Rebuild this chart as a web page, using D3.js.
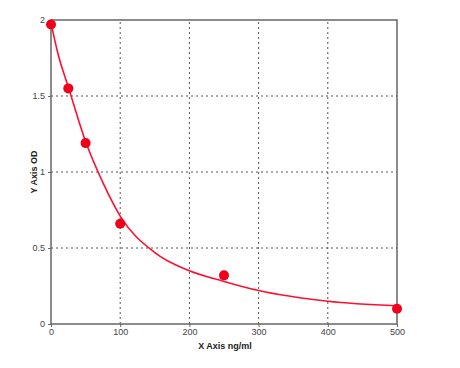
<!DOCTYPE html>
<html>
<head>
<meta charset="utf-8">
<script src="https://cdn.jsdelivr.net/npm/d3@7"></script>
<style>
  body { margin: 0; background: #fff; }
  svg text { font-family: "Liberation Sans", Arial, sans-serif; }
</style>
</head>
<body>
<div id="chart"></div>
<script>
// measured standards
const conc = [0, 25, 50, 100, 250, 500];
const od = [1.97, 1.55, 1.19, 0.66, 0.32, 0.10];
// fitted curve
const fitX = [0, 10, 25, 50, 75, 100, 150, 200, 250, 300, 400, 500];
const fitY = [1.98, 1.78, 1.56, 1.2, 0.93, 0.71, 0.47, 0.35, 0.28, 0.22, 0.15, 0.12];
const xTicks = [0, 100, 200, 300, 400, 500];
const yTicks = [0, 0.5, 1, 1.5, 2];

const width = 460, height = 368;
const margin = { left: 51, top: 20, right: 63, bottom: 44 };

const svg = d3.select('#chart').append('svg')
  .attr('width', width)
  .attr('height', height);

const x = d3.scaleLinear().domain([0, 500]).range([margin.left, width - margin.right]);
const y = d3.scaleLinear().domain([0, 2]).range([height - margin.bottom, margin.top]);

// grid
const grid = svg.append('g');
grid.selectAll('.vg')
  .data(xTicks.slice(1, -1))
  .enter().append('line')
  .attr('x1', d => x(d)).attr('x2', d => x(d))
  .attr('y1', y(0)).attr('y2', y(2))
  .attr('stroke', '#555')
  .attr('stroke-width', 1)
  .attr('stroke-dasharray', '2,3');
grid.selectAll('.hg')
  .data(yTicks.slice(1, -1))
  .enter().append('line')
  .attr('x1', x(0)).attr('x2', x(500))
  .attr('y1', d => y(d)).attr('y2', d => y(d))
  .attr('stroke', '#555')
  .attr('stroke-width', 1)
  .attr('stroke-dasharray', '2,3');

// frame
svg.append('rect')
  .attr('x', x(0)).attr('y', y(2))
  .attr('width', x(500) - x(0))
  .attr('height', y(0) - y(2))
  .attr('fill', 'none')
  .attr('stroke', '#666')
  .attr('stroke-width', 1.5);

// axes
const xAxis = svg.append('g')
  .attr('transform', `translate(0,${y(0)})`)
  .call(d3.axisBottom(x).tickValues(xTicks).tickSize(3).tickFormat(d3.format('d')));
const yAxis = svg.append('g')
  .attr('transform', `translate(${x(0)},0)`)
  .call(d3.axisLeft(y).tickValues(yTicks).tickSize(3).tickFormat(d => String(d)));
[xAxis, yAxis].forEach(a => {
  a.select('.domain').remove();
  a.selectAll('line').attr('stroke', '#666');
  a.selectAll('text').attr('fill', '#444').attr('font-size', 9);
});
xAxis.selectAll('text').attr('dy', '0.5em');

// fitted line
const line = d3.line()
  .x(d => x(d[0]))
  .y(d => y(d[1]))
  .curve(d3.curveMonotoneX);
svg.append('path')
  .datum(fitX.map((v, i) => [v, fitY[i]]))
  .attr('d', line)
  .attr('fill', 'none')
  .attr('stroke', '#ff1030')
  .attr('stroke-width', 1.6);

// points
svg.selectAll('.pt')
  .data(conc.map((v, i) => [v, od[i]]))
  .enter().append('circle')
  .attr('cx', d => x(d[0]))
  .attr('cy', d => y(d[1]))
  .attr('r', 5)
  .attr('fill', '#f0001a');

// titles
svg.append('text')
  .attr('x', 225).attr('y', 349)
  .attr('text-anchor', 'middle')
  .attr('font-size', 9)
  .attr('font-weight', 'bold')
  .attr('fill', '#222')
  .text('X Axis ng/ml');
svg.append('text')
  .attr('transform', `translate(37,${(y(0) + y(2)) / 2}) rotate(-90)`)
  .attr('text-anchor', 'middle')
  .attr('font-size', 9)
  .attr('font-weight', 'bold')
  .attr('fill', '#222')
  .text('Y Axis OD');
</script>
</body>
</html>
